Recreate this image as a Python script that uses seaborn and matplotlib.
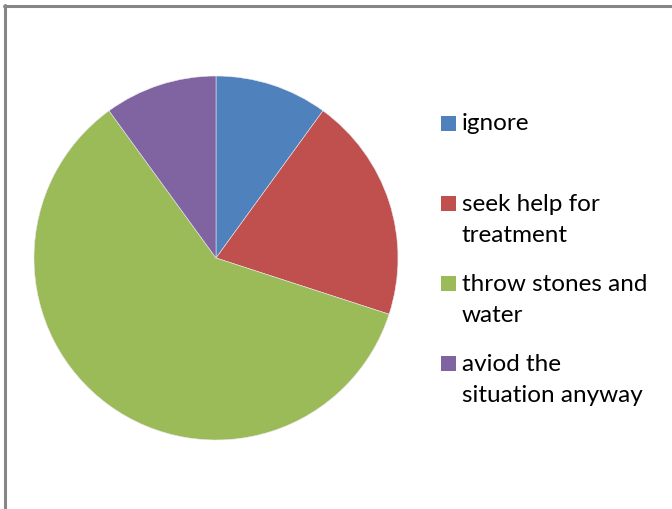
import matplotlib.pyplot as plt
import seaborn as sns
from matplotlib.patches import Rectangle
from matplotlib.lines import Line2D

sns.set_style("white")
plt.rcParams['font.family'] = ['Lato', 'DejaVu Sans']

# datos
categorias = ["ignore", "seek help for\ntreatment", "throw stones and\nwater", "aviod the\nsituation anyway"]
valores = [10, 20, 60, 10]
colores = ["#4F81BD", "#C0504D", "#9BBB59", "#8064A2"]

W, H = 672, 510
fig = plt.figure(figsize=(W / 100, H / 100), dpi=100)

# borde gris del grafico (estilo Excel)
fig.add_artist(Line2D([4 / W, 1], [1 - 7 / H, 1 - 7 / H], color="#868686", lw=2.2, transform=fig.transFigure))
fig.add_artist(Line2D([5 / W, 5 / W], [0, 1 - 6 / H], color="#868686", lw=2.2, transform=fig.transFigure))

# pastel: centro (216, 259) px, radio 182 px
cx, cy, r = 216, 259, 182
ax = fig.add_axes([(cx - r) / W, (H - cy - r) / H, 2 * r / W, 2 * r / H])
ax.pie(valores, colors=colores, startangle=90, counterclock=False,
       wedgeprops=dict(edgecolor="#E8E8F0", linewidth=0.4))
ax.set_xlim(-1, 1)
ax.set_ylim(-1, 1)
ax.set_aspect("equal")
ax.axis("off")

# leyenda a mano (posiciones en px)
ys = [124, 220, 300, 380]
for lab, col, y in zip(categorias, colores, ys):
    n = lab.count("\n")
    ysq = y - n * 16
    fig.add_artist(Rectangle((441 / W, 1 - (ysq + 7.5) / H), 15 / W, 15 / H,
                             facecolor=col, edgecolor="none", transform=fig.transFigure))
    fig.text(462 / W, 1 - y / H, lab, fontsize=17.5, va="center", ha="left",
             linespacing=1.6, color="black")

fig.savefig("out.png", dpi=100)
